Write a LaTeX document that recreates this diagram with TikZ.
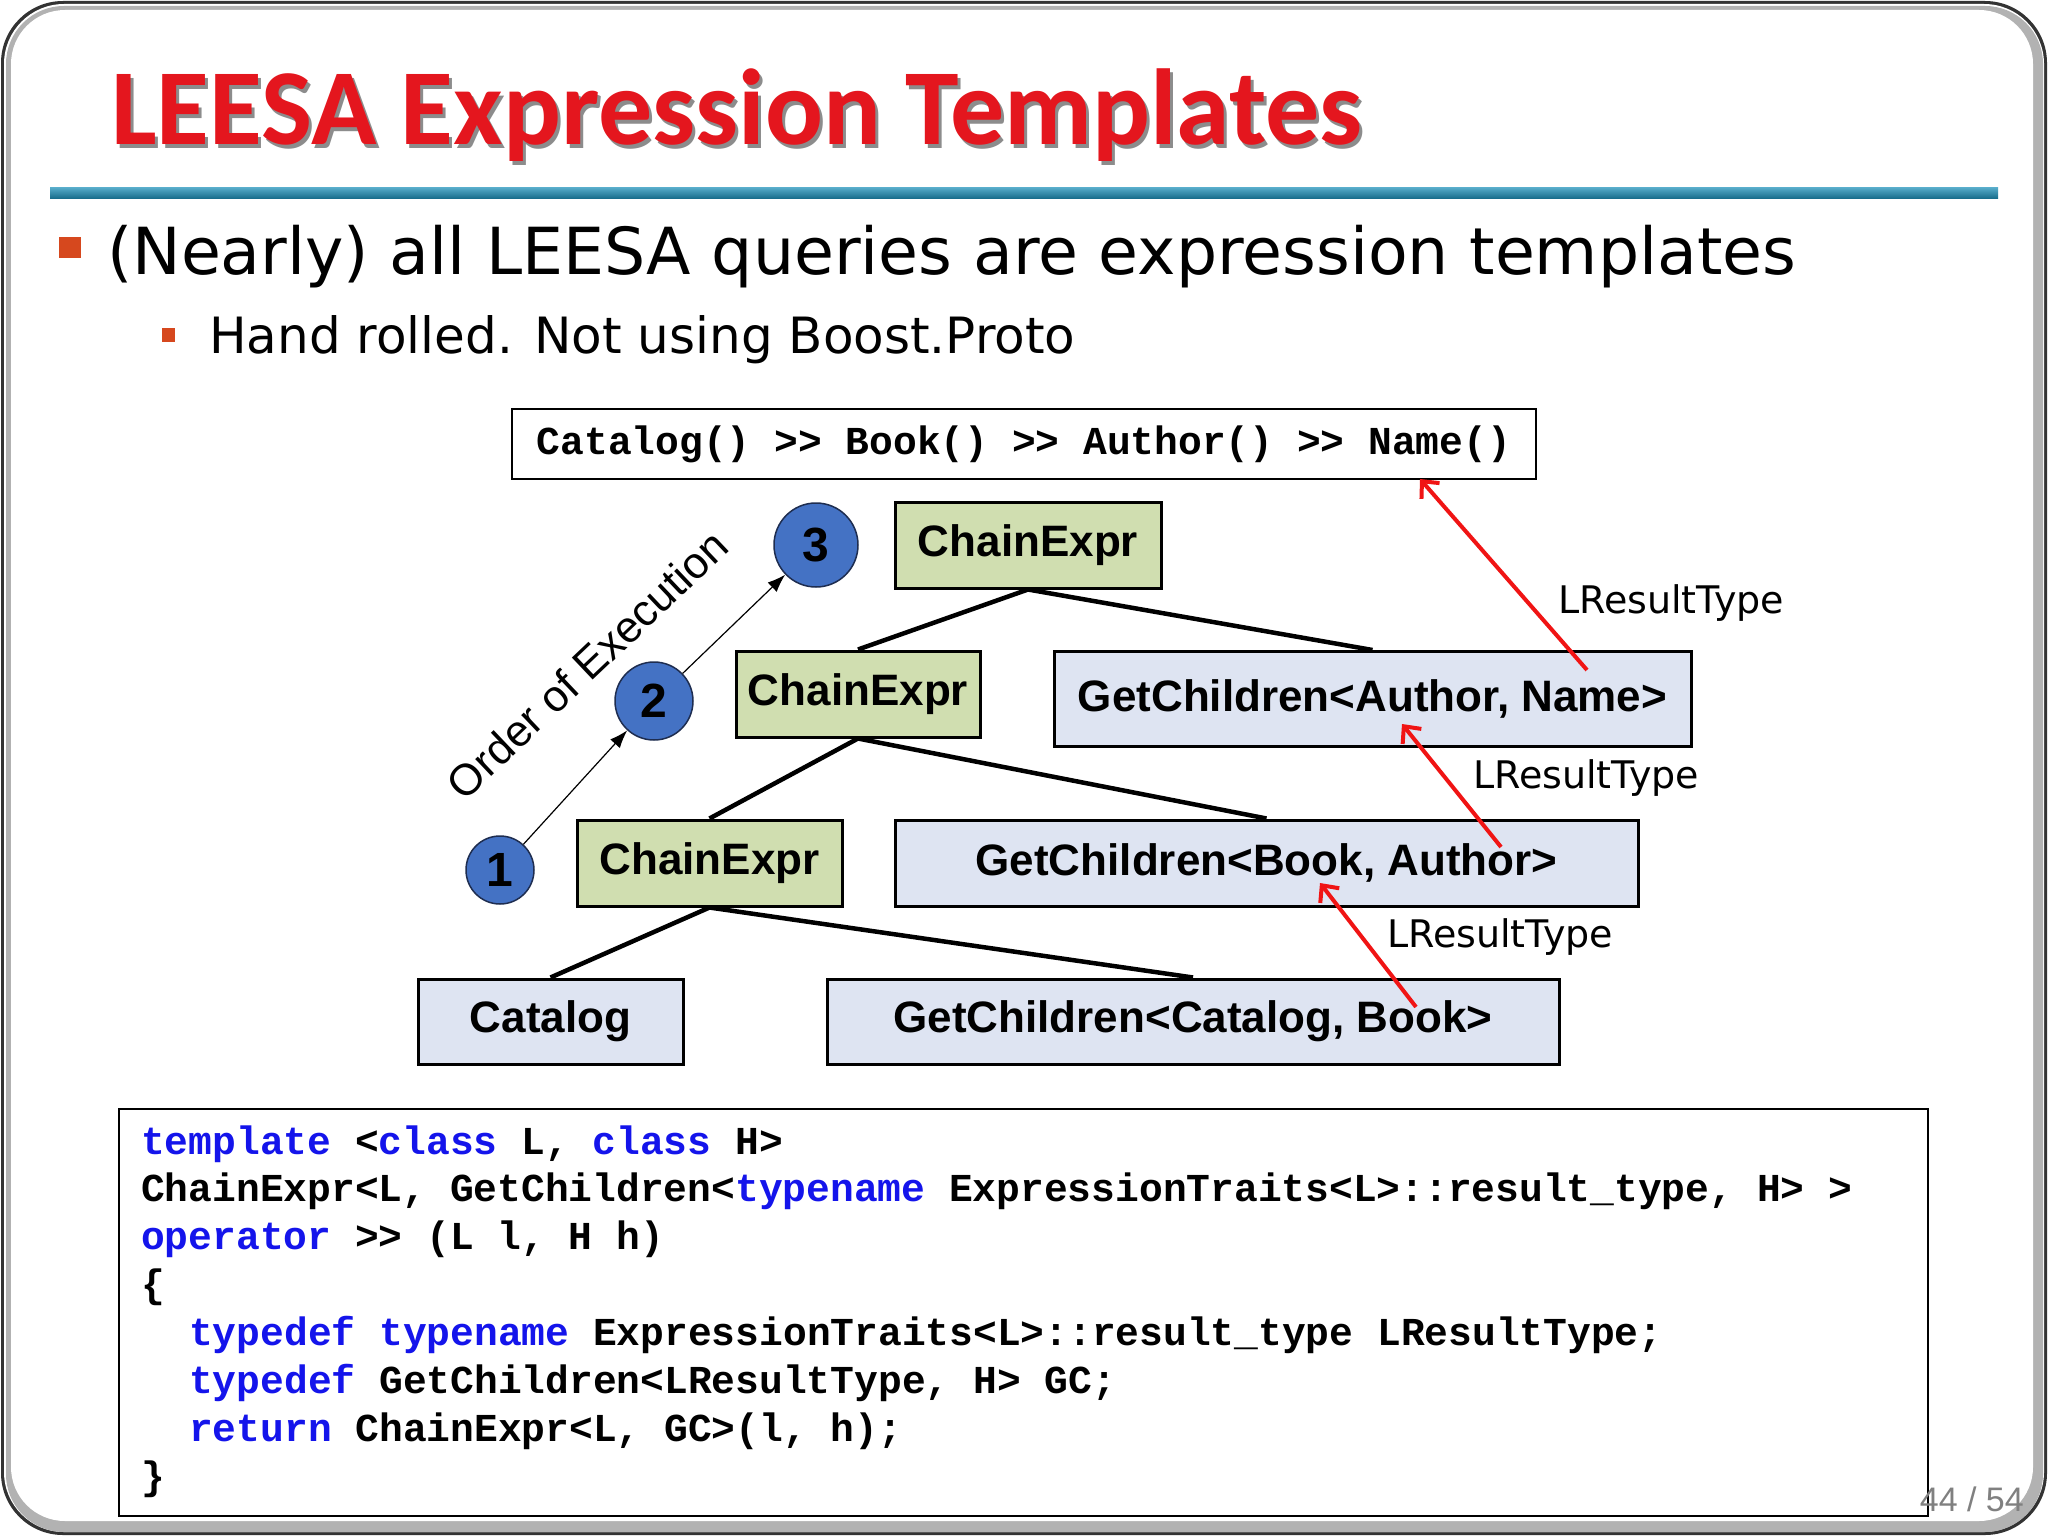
\documentclass[tikz,border=0pt]{standalone}
\usepackage{fontspec}
\setmainfont{DejaVu Sans}
\newfontfamily\titlefont{Carlito}
\newfontfamily\arialfont{Liberation Sans}
\newfontfamily\codefont{Liberation Mono}
\usetikzlibrary{arrows.meta}
\definecolor{titlered}{RGB}{228,22,30}
\definecolor{tealA}{RGB}{90,175,205}
\definecolor{tealB}{RGB}{25,110,140}
\definecolor{bulletred}{RGB}{214,72,30}
\definecolor{cegreen}{RGB}{208,222,176}
\definecolor{gcblue}{RGB}{222,228,242}
\definecolor{circblue}{RGB}{68,114,196}
\definecolor{circedge}{RGB}{30,45,80}
\definecolor{kwblue}{RGB}{20,20,235}
\definecolor{arrowred}{RGB}{240,20,20}
\definecolor{pagegray}{RGB}{128,128,128}
\newcommand{\kw}[1]{\textcolor{kwblue}{#1}}
\begin{document}
\begin{tikzpicture}[x=1pt,y=-1pt,
  cebox/.style={draw=black, line width=3pt, fill=cegreen, inner sep=0pt, font=\arialfont\bfseries\fontsize{44}{50}\selectfont},
  gcbox/.style={draw=black, line width=3pt, fill=gcblue, inner sep=0pt, font=\arialfont\bfseries\fontsize{44}{50}\selectfont},
  circ/.style={circle, draw=circedge, line width=1.5pt, fill=circblue, inner sep=0pt, font=\arialfont\bfseries\fontsize{48}{52}\selectfont},
  treeline/.style={line width=4.5pt},
  ordarrow/.style={line width=1.2pt, -{Latex[length=18pt,width=13pt]}},
  redarrow/.style={draw=arrowred, line width=4pt, -{Straight Barb[length=13pt,width=24pt]}},
  lbl/.style={anchor=base west, inner sep=0pt, font=\fontsize{38}{44}\selectfont},
  codeline/.style={anchor=base west, inner sep=0pt, font=\codefont\bfseries\fontsize{39.6}{48}\selectfont},
]
\useasboundingbox (0,0) rectangle (2048,1536);
% frame
\fill[white] (0,0) rectangle (2048,1536);
\fill[black!80, rounded corners=62] (1,1) rectangle (2047,1535);
\fill[white, rounded corners=60] (4,4) rectangle (2044,1532);
\fill[gray!60, rounded corners=58] (6,6) rectangle (2043,1532);
\fill[white, rounded corners=54] (11,10) rectangle (2033,1521);

% title
\node[anchor=base west, inner sep=0pt, text=black!45, font=\titlefont\bfseries\fontsize{108}{120}\selectfont] (titleshadow) at (114,149) {LEESA Expression Templates};
\node[anchor=base west, inner sep=0pt, text=titlered, font=\titlefont\bfseries\fontsize{108}{120}\selectfont] (title) at (111,145) {LEESA Expression Templates};
\shade[top color=tealA, bottom color=tealB] (50,187) rectangle (1998,198);

% bullets
\fill[bulletred] (59,237) rectangle (81,258);
\node[anchor=base west, inner sep=0pt, font=\fontsize{64.9}{72}\selectfont] (b1) at (107,274) {(Nearly) all LEESA queries are expression templates};
\fill[bulletred] (162,328) rectangle (175,342);
\node[anchor=base west, inner sep=0pt, font=\fontsize{50}{60}\selectfont] (b2) at (209,353) {Hand rolled. Not using Boost.Proto};

% top expression box
\node[draw=black, line width=2.5pt, fill=white, minimum width=1024pt, minimum height=70pt, inner sep=0pt, font=\codefont\bfseries\fontsize{39.6}{48}\selectfont] (expr) at (1024,444) {Catalog() >{}> Book() >{}> Author() >{}> Name()};

% tree
\node[cebox, minimum width=266pt, minimum height=86pt] (ce3) at (1028,545) {ChainExpr};
\node[cebox, minimum width=244pt, minimum height=86pt] (ce2) at (858,694) {ChainExpr};
\node[gcbox, minimum width=637pt, minimum height=95pt] (gcan) at (1372.5,699) {GetChildren<Author, Name>};
\node[cebox, minimum width=265pt, minimum height=86pt] (ce1) at (709.5,863) {ChainExpr};
\node[gcbox, minimum width=743pt, minimum height=86pt] (gcba) at (1266.5,863) {GetChildren<Book, Author>};
\node[gcbox, minimum width=265pt, minimum height=85pt] (cat) at (550.5,1021.5) {Catalog};
\node[gcbox, minimum width=732pt, minimum height=85pt] (gccb) at (1193,1021.5) {GetChildren<Catalog, Book>};

\draw[treeline] (ce3.south) -- (ce2.north);
\draw[treeline] (ce3.south) -- (gcan.north);
\draw[treeline] (ce2.south) -- (ce1.north);
\draw[treeline] (ce2.south) -- (gcba.north);
\draw[treeline] (ce1.south) -- (cat.north);
\draw[treeline] (ce1.south) -- (gccb.north);

% order of execution
\node[circ, minimum size=84pt] (c3) at (816,545) {3};
\node[circ, minimum size=78pt] (c2) at (654,701) {2};
\node[circ, minimum size=68pt] (c1) at (500,870) {1};
\draw[ordarrow] (c1) -- (c2);
\draw[ordarrow] (c2) -- (c3);
\node[anchor=base, inner sep=0pt, rotate=43.5, font=\arialfont\fontsize{44}{50}\selectfont] (order) at (598,676) {Order of Execution};

% red arrows
\coordinate (r1s) at (1587,670);
\coordinate (r1e) at (1420,479);
\coordinate (r2s) at (1501,847);
\coordinate (r2e) at (1402,724);
\coordinate (r3s) at (1416,1007);
\coordinate (r3e) at (1320,883);
\draw[redarrow] (r1s) -- (r1e);
\draw[redarrow] (r2s) -- (r2e);
\draw[redarrow] (r3s) -- (r3e);
\node[lbl] (l1) at (1558,613) {LResultType};
\node[lbl] (l2) at (1473,788) {LResultType};
\node[lbl] (l3) at (1387,947) {LResultType};

% code box
\node[draw=black, line width=2.5pt, minimum width=1809pt, minimum height=407pt, inner sep=0pt] (codebox) at (1023.5,1312.5) {};
\node[codeline] (k1) at (141,1154) {\kw{template} <\kw{class} L, \kw{class} H>};
\node[codeline] (k2) at (141,1201.9) {ChainExpr<L, GetChildren<\kw{typename} ExpressionTraits<L>::result\_type, H> >};
\node[codeline] (k3) at (141,1249.8) {\kw{operator} >{}> (L l, H h)};
\node[codeline] (k4) at (141,1297.7) {\{};
\node[codeline] (k5) at (189,1345.6) {\kw{typedef} \kw{typename} ExpressionTraits<L>::result\_type LResultType;};
\node[codeline] (k6) at (189,1393.5) {\kw{typedef} GetChildren<LResultType, H> GC;};
\node[codeline] (k7) at (189,1441.4) {\kw{return} ChainExpr<L, GC>(l, h);};
\node[codeline] (k8) at (141,1489.3) {\}};

% page number
\node[anchor=base east, inner sep=0pt, text=pagegray, font=\arialfont\fontsize{34}{40}\selectfont] (pg) at (2024,1511) {44 / 54};
\end{tikzpicture}
\end{document}
